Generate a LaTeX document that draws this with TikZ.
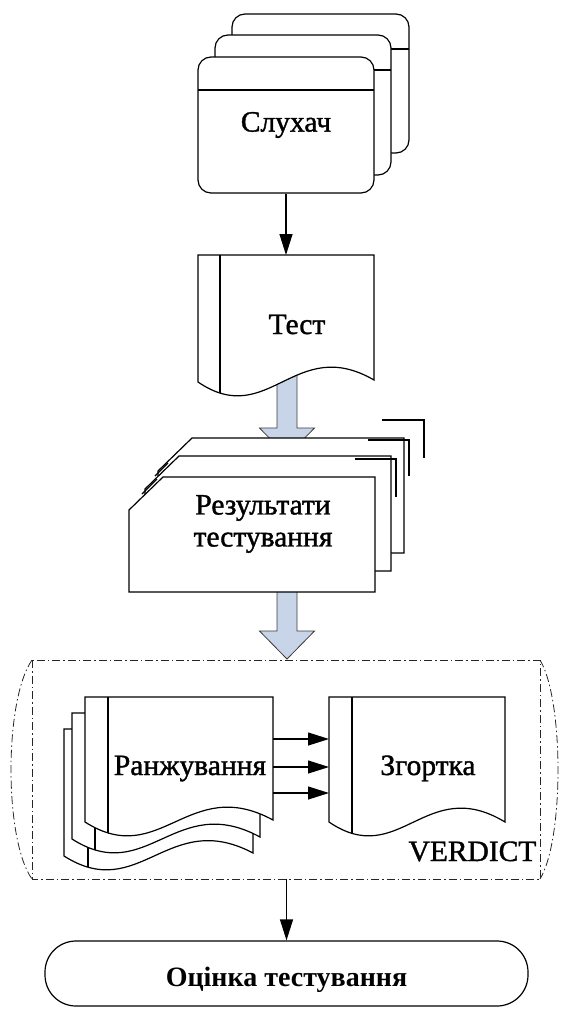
\documentclass[tikz,border=0pt]{standalone}
\usepackage{fontspec}
\setmainfont{Liberation Serif}
\newfontfamily\diagfont{Liberation Serif}[FakeBold=1.3]
\usetikzlibrary{arrows.meta, calc}
\definecolor{blockblue}{HTML}{C8D5E8}
\definecolor{edgegray}{HTML}{3A3A3A}

% document sheet with a wavy lower edge: left, right, top, bottom-left, bottom-right
\newcommand{\docpath}[5]{(#1,#3) -- (#2,#3) -- (#2,#5) .. controls ({#1+0.55*(#2-#1)},{#4-48}) and ({#1+0.4*(#2-#1)},{#4+48}) .. (#1,#4) -- cycle}
\newcommand{\docshape}[6]{%
  \begin{scope}
    \fill[white] \docpath{#1}{#2}{#3}{#4}{#5};
    \clip \docpath{#1}{#2}{#3}{#4}{#5};
    \draw (#6,#3) -- (#6,{#4+40});
  \end{scope}
  \draw \docpath{#1}{#2}{#3}{#4}{#5};}

\begin{document}
\begin{tikzpicture}[x=1pt, y=-1pt, line width=1.2pt,
  font=\diagfont\fontsize{29.5}{32}\selectfont,
  label/.style={anchor=base, inner sep=0pt},
  flowarrow/.style={-{Triangle[length=21pt,width=13pt]}},
  blockarrow/.style={fill=blockblue, draw=edgegray, line width=0.8pt},
  card/.style={draw, fill=white, rounded corners=13},
  container/.style={draw=black!85, line width=0.8pt, dash pattern=on 8pt off 3pt on 1.5pt off 3pt}]
  \useasboundingbox (0,0) rectangle (563,1010);

  % wide arrows first, the sheets cover their tails
  \draw[blockarrow] (277,375) -- (277,428) -- (259.5,428) -- (287,456) -- (314.5,428) -- (297,428) -- (297,375) -- cycle;
  \draw[blockarrow] (277,585) -- (277,631) -- (259.5,631) -- (287,659) -- (314.5,631) -- (297,631) -- (297,585) -- cycle;

  % listener cards
  \draw[card] (232,14) rectangle (409,153);
  \draw (232,49) -- (409,49);
  \draw[card] (215,35) rectangle (391,175);
  \draw (215,70) -- (391,70);
  \node[card, minimum width=176, minimum height=136, inner sep=0pt] (slukhach) at (286,125) {Слухач};
  \draw (198,90) -- (374,90);

  % test sheet
  \docshape{198}{374}{255}{382}{380}{220}
  \node[label] (test) at (297,334) {Тест};
  \coordinate (test-top) at (286,255);
  \draw[flowarrow] (slukhach.south) -- (test-top);

  % results stack
  \draw[fill=white] (158,471) -- (192,438) -- (404,438) -- (404,553) -- (158,553) -- cycle;
  \draw[fill=white] (145,489) -- (179,456) -- (391,456) -- (391,571) -- (145,571) -- cycle;
  \draw[fill=white] (129,510) -- (163,477) -- (375,477) -- (375,592) -- (129,592) -- cycle;
  \draw (355,459) -- (396,459) -- (396,497);
  \draw (368,440) -- (409,440) -- (409,476);
  \draw (382,420) -- (424,420) -- (424,458);
  \draw (142,494) -- (157,479);
  \draw (155,476) -- (168,463);
  \node[align=center, inner sep=0pt] (results) at (263,524) {Результати\\тестування};

  % VERDICT block
  \draw[container] (32,660) rectangle (540,879);
  \draw[container] (32,660) .. controls (4,700) and (4,840) .. (32,879);
  \draw[container] (540,660) .. controls (564,700) and (564,840) .. (540,879);
  \docshape{64}{253}{729}{856}{853}{88}
  \docshape{72}{260}{713}{839}{837}{95}
  \docshape{85}{273}{697}{822}{820}{108}
  \node[label] (ranking) at (190,775) {Ранжування};
  \docshape{329}{505}{697}{822}{822}{352}
  \node[label] (zgortka) at (428,775) {Згортка};
  \node[label, anchor=base east] (verdict) at (537,861) {VERDICT};
  \coordinate (ranking-out) at (273,767);
  \coordinate (zgortka-in) at (329,767);
  \foreach \s in {28,0,-26}
    \draw[flowarrow] ([yshift=\s]ranking-out) -- ([yshift=\s]zgortka-in);

  % final terminal
  \node[draw, rounded corners=31, minimum width=483, minimum height=65, inner sep=0pt] (final) at (286.5,973.5) {};
  \node[label, font=\rmfamily\fontsize{28}{32}\selectfont\bfseries] (ocinka) at (286.5,986) {Оцінка тестування};
  \coordinate (verdict-out) at (286.5,879);
  \draw[flowarrow] (verdict-out) -- (final.north);
\end{tikzpicture}
\end{document}
